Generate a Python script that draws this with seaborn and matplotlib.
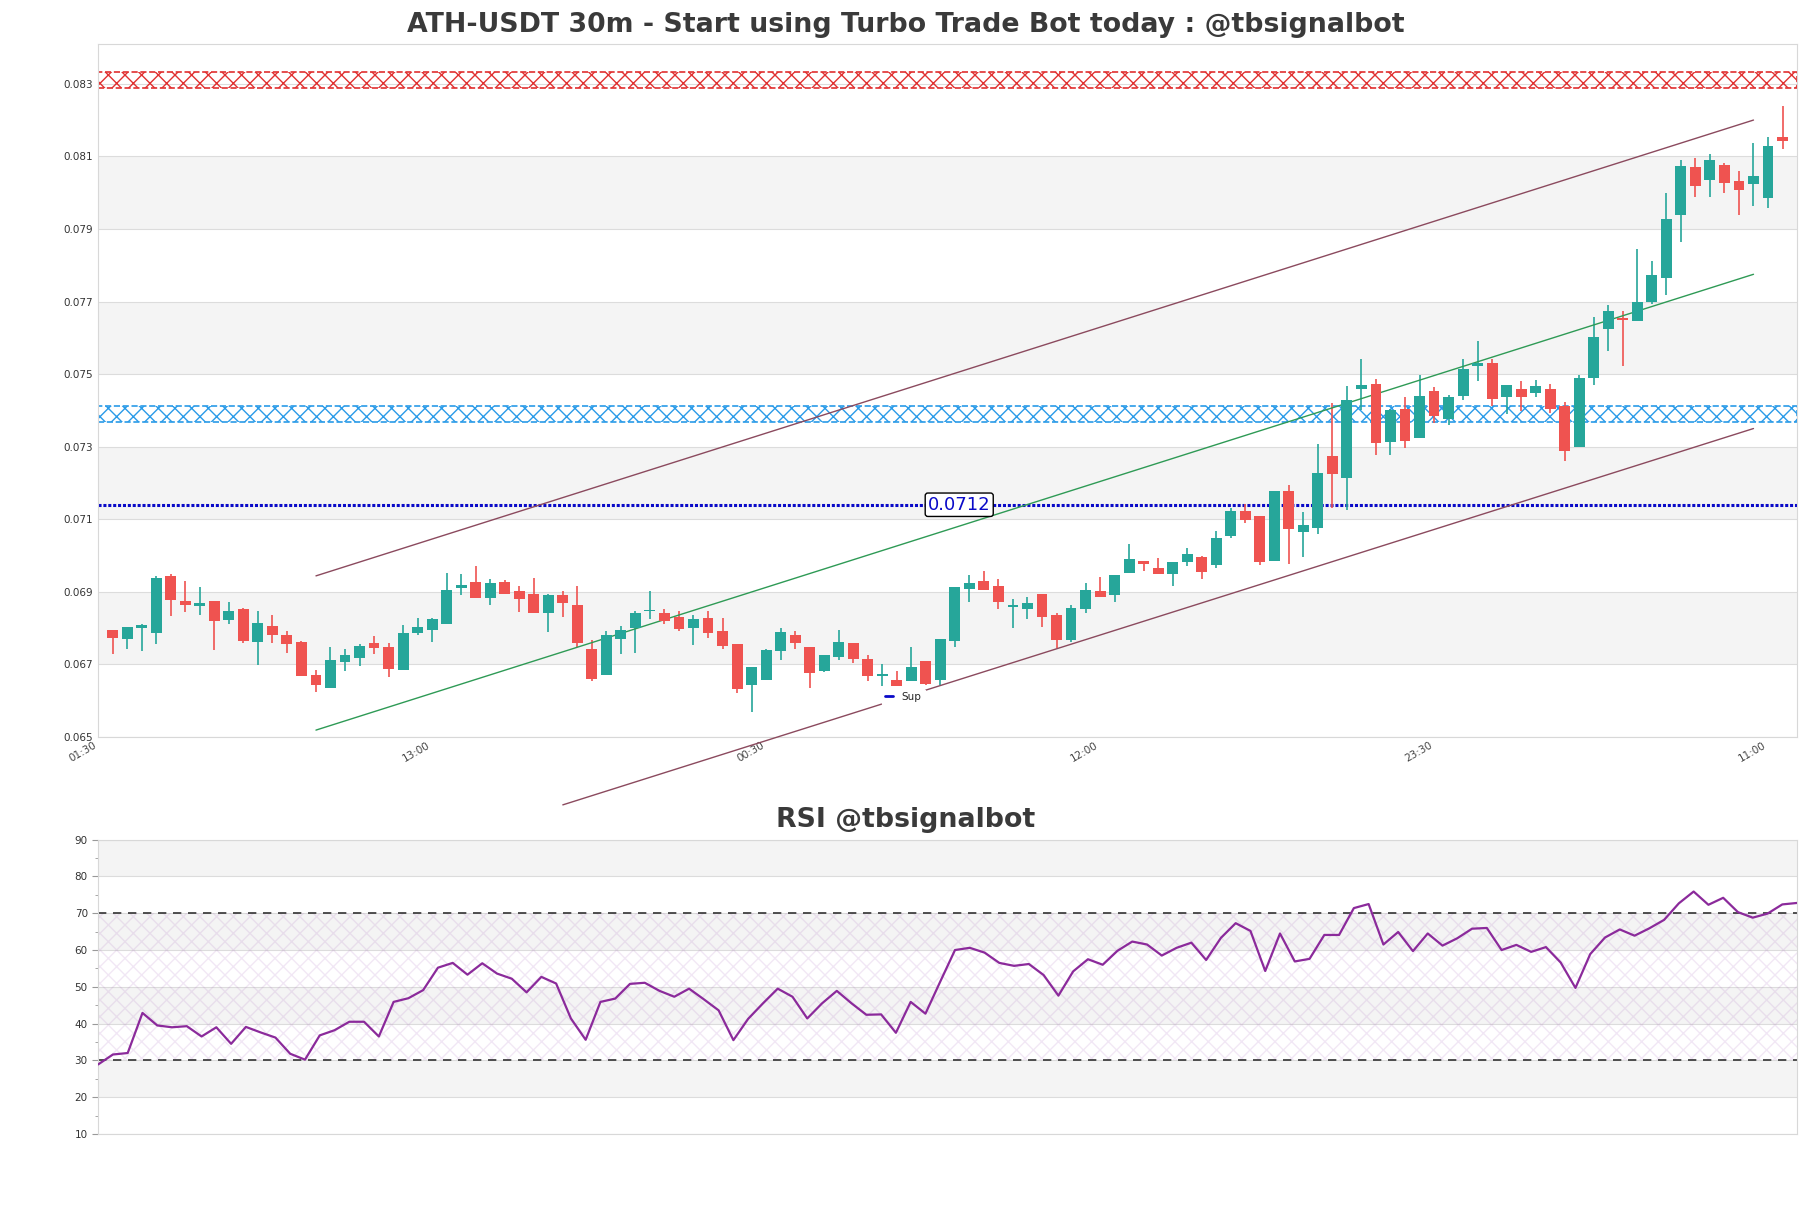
import matplotlib
matplotlib.use("Agg")
import matplotlib.pyplot as plt
from matplotlib.lines import Line2D
import numpy as np
import pandas as pd
import seaborn as sns

# candles (30m), index 1..116
opens = [0.06794, 0.06769, 0.06800, 0.06787, 0.06945, 0.06876, 0.06861, 0.06876, 0.06822, 0.06853,
         0.06762, 0.06805, 0.06780, 0.06761, 0.06671, 0.06636, 0.06707, 0.06718, 0.06759, 0.06748,
         0.06686, 0.06787, 0.06795, 0.06811, 0.06910, 0.06926, 0.06883, 0.06928, 0.06901, 0.06893,
         0.06842, 0.06890, 0.06863, 0.06742, 0.06672, 0.06770, 0.06800, 0.06846, 0.06843, 0.06830,
         0.06801, 0.06827, 0.06792, 0.06755, 0.06642, 0.06658, 0.06738, 0.06782, 0.06747, 0.06681,
         0.06720, 0.06758, 0.06714, 0.06668, 0.06658, 0.06654, 0.06710, 0.06656, 0.06764, 0.06909,
         0.06930, 0.06916, 0.06857, 0.06852, 0.06894, 0.06836, 0.06766, 0.06854, 0.06903, 0.06892,
         0.06951, 0.06985, 0.06965, 0.06950, 0.06983, 0.06995, 0.06974, 0.07055, 0.07124, 0.07109,
         0.06986, 0.07178, 0.07066, 0.07075, 0.07275, 0.07213, 0.07460, 0.07473, 0.07313, 0.07405,
         0.07324, 0.07453, 0.07377, 0.07440, 0.07522, 0.07531, 0.07436, 0.07459, 0.07447, 0.07459,
         0.07412, 0.07300, 0.07488, 0.07623, 0.07655, 0.07645, 0.07699, 0.07764, 0.07939, 0.08071,
         0.08035, 0.08076, 0.08031, 0.08024, 0.07986, 0.08154]
highs = [0.06794, 0.06802, 0.06810, 0.06945, 0.06949, 0.06931, 0.06912, 0.06876, 0.06871, 0.06856,
         0.06846, 0.06835, 0.06791, 0.06764, 0.06685, 0.06748, 0.06742, 0.06756, 0.06778, 0.06758,
         0.06808, 0.06829, 0.06827, 0.06952, 0.06950, 0.06970, 0.06936, 0.06933, 0.06917, 0.06937,
         0.06895, 0.06903, 0.06917, 0.06767, 0.06791, 0.06805, 0.06846, 0.06901, 0.06854, 0.06847,
         0.06835, 0.06846, 0.06827, 0.06755, 0.06693, 0.06742, 0.06800, 0.06792, 0.06748, 0.06726,
         0.06796, 0.06758, 0.06727, 0.06701, 0.06681, 0.06749, 0.06710, 0.06769, 0.06914, 0.06946,
         0.06958, 0.06936, 0.06881, 0.06885, 0.06894, 0.06842, 0.06864, 0.06925, 0.06940, 0.06947,
         0.07033, 0.06985, 0.06992, 0.06982, 0.07020, 0.07000, 0.07067, 0.07131, 0.07142, 0.07109,
         0.07178, 0.07195, 0.07120, 0.07307, 0.07420, 0.07466, 0.07542, 0.07487, 0.07405, 0.07436,
         0.07498, 0.07465, 0.07442, 0.07542, 0.07591, 0.07542, 0.07470, 0.07480, 0.07484, 0.07473,
         0.07422, 0.07498, 0.07658, 0.07691, 0.07675, 0.07844, 0.07813, 0.08000, 0.08091, 0.08095,
         0.08107, 0.08082, 0.08059, 0.08137, 0.08153, 0.08238]
lows = [0.06729, 0.06742, 0.06737, 0.06757, 0.06833, 0.06844, 0.06836, 0.06740, 0.06811, 0.06759,
        0.06699, 0.06759, 0.06732, 0.06669, 0.06623, 0.06636, 0.06683, 0.06696, 0.06729, 0.06664,
        0.06686, 0.06782, 0.06762, 0.06811, 0.06891, 0.06883, 0.06864, 0.06895, 0.06844, 0.06842,
        0.06788, 0.06832, 0.06749, 0.06655, 0.06672, 0.06729, 0.06731, 0.06825, 0.06812, 0.06791,
        0.06754, 0.06772, 0.06742, 0.06620, 0.06568, 0.06658, 0.06713, 0.06742, 0.06636, 0.06679,
        0.06712, 0.06703, 0.06653, 0.06641, 0.06641, 0.06654, 0.06644, 0.06644, 0.06748, 0.06872,
        0.06904, 0.06852, 0.06800, 0.06826, 0.06802, 0.06746, 0.06761, 0.06843, 0.06885, 0.06872,
        0.06951, 0.06957, 0.06948, 0.06915, 0.06972, 0.06934, 0.06966, 0.07048, 0.07091, 0.06973,
        0.06986, 0.06978, 0.06997, 0.07059, 0.07131, 0.07125, 0.07400, 0.07277, 0.07277, 0.07296,
        0.07324, 0.07366, 0.07359, 0.07428, 0.07482, 0.07413, 0.07390, 0.07399, 0.07436, 0.07392,
        0.07261, 0.07300, 0.07471, 0.07565, 0.07522, 0.07645, 0.07694, 0.07719, 0.07864, 0.07988,
        0.07988, 0.07999, 0.07939, 0.07964, 0.07959, 0.08121]
closes = [0.06772, 0.06802, 0.06808, 0.06939, 0.06877, 0.06864, 0.06869, 0.06820, 0.06846, 0.06765,
          0.06813, 0.06781, 0.06757, 0.06669, 0.06642, 0.06712, 0.06726, 0.06750, 0.06745, 0.06688,
          0.06786, 0.06802, 0.06824, 0.06904, 0.06920, 0.06883, 0.06923, 0.06895, 0.06880, 0.06842,
          0.06890, 0.06869, 0.06759, 0.06661, 0.06782, 0.06794, 0.06843, 0.06850, 0.06820, 0.06798,
          0.06824, 0.06787, 0.06751, 0.06633, 0.06693, 0.06739, 0.06790, 0.06759, 0.06677, 0.06725,
          0.06763, 0.06715, 0.06668, 0.06673, 0.06641, 0.06692, 0.06647, 0.06769, 0.06914, 0.06925,
          0.06906, 0.06871, 0.06864, 0.06870, 0.06832, 0.06767, 0.06855, 0.06905, 0.06885, 0.06947,
          0.06990, 0.06978, 0.06948, 0.06982, 0.07004, 0.06955, 0.07048, 0.07124, 0.07099, 0.06981,
          0.07178, 0.07072, 0.07084, 0.07228, 0.07224, 0.07429, 0.07469, 0.07310, 0.07401, 0.07316,
          0.07439, 0.07385, 0.07437, 0.07515, 0.07530, 0.07432, 0.07470, 0.07436, 0.07467, 0.07405,
          0.07288, 0.07489, 0.07601, 0.07675, 0.07648, 0.07700, 0.07772, 0.07927, 0.08073, 0.08019,
          0.08090, 0.08027, 0.08008, 0.08046, 0.08129, 0.08141]

rsi = [28.9, 31.6, 32.0, 42.9, 39.5, 39.0, 39.3, 36.5, 39.0, 34.5,
       39.1, 37.6, 36.2, 31.8, 30.2, 36.8, 38.2, 40.5, 40.5, 36.5,
       45.9, 46.9, 49.1, 55.2, 56.5, 53.3, 56.4, 53.6, 52.2, 48.5,
       52.7, 50.9, 41.4, 35.6, 45.9, 46.8, 50.8, 51.1, 48.9, 47.3,
       49.5, 46.6, 43.6, 35.5, 41.3, 45.5, 49.5, 47.3, 41.4, 45.5,
       48.9, 45.5, 42.4, 42.5, 37.5, 45.9, 42.7, 51.4, 60.0, 60.6,
       59.3, 56.5, 55.7, 56.2, 53.2, 47.6, 54.2, 57.5, 56.0, 59.8,
       62.3, 61.5, 58.5, 60.6, 62.0, 57.3, 63.3, 67.3, 65.2, 54.3,
       64.5, 56.9, 57.6, 64.1, 64.1, 71.4, 72.5, 61.5, 64.9, 59.7,
       64.5, 61.2, 63.2, 65.8, 66.0, 60.0, 61.4, 59.5, 60.8, 56.6,
       49.7, 58.9, 63.4, 65.6, 63.9, 65.9, 68.2, 72.7, 75.9, 72.3,
       74.2, 70.3, 68.8, 69.9, 72.4, 72.8]

tick_pos = [0, 23, 46, 69, 92, 115]
tick_labels = ["01:30", "13:00", "00:30", "12:00", "23:30", "11:00"]

# channel lines (x index, price)
chan_x = [15, 114]
chan_upper = [0.06944, 0.08200]
chan_mid = [0.06519, 0.07775]
low_x = [32, 114]
chan_lower = [0.06313, 0.07350]

resistance_zone = (0.08288, 0.08332)
support_zone = (0.07368, 0.07411)
support_level = 0.0714
support_text = "0.0712"

UP, DOWN = "#26a69a", "#ef5350"
BAND = "#f4f4f4"
TITLE_C = "#3a3a3a"
SUP_C = "#0a0ac8"

sns.set_style("whitegrid", {"grid.color": "#dcdcdc", "axes.edgecolor": "#d8d8d8"})
plt.rcParams["font.family"] = ["DejaVu Sans"]

df = pd.DataFrame({"open": opens, "high": highs, "low": lows, "close": closes})
df["x"] = np.arange(1, len(df) + 1)
df["up"] = df["close"] >= df["open"]

fig = plt.figure(figsize=(18.11, 12.08), dpi=100)
ax = fig.add_axes([0.0542, 0.3899, 0.9381, 0.5738])
ax2 = fig.add_axes([0.0542, 0.0613, 0.9381, 0.2436])

# --- price panel ---
ax.set_xlim(0, 117)
ax.set_ylim(0.065, 0.0841)
yt = np.arange(0.065, 0.0835, 0.002)
ax.set_yticks(yt)
ax.set_yticklabels([f"{v:.3f}" for v in yt])
for lo in np.arange(0.067, 0.0815, 0.004):
    ax.axhspan(lo, lo + 0.002, color=BAND, zorder=0, lw=0)
ax.grid(axis="x", visible=False)

colors = np.where(df["up"], UP, DOWN)
ax.vlines(df["x"], df["low"], df["high"], colors=colors, lw=1.2, zorder=3)
body_lo = np.minimum(df["open"], df["close"])
body_h = np.maximum((df["close"] - df["open"]).abs(), 0.00004)
ax.bar(df["x"], body_h, bottom=body_lo, width=0.75, color=colors, lw=0, zorder=4)

ax.axhspan(*resistance_zone, facecolor="none", edgecolor="#e03030", hatch="xx",
           ls="--", lw=1.2, zorder=2)
ax.axhspan(*support_zone, facecolor="none", edgecolor="#2a9be8", hatch="xx",
           ls="--", lw=1.2, zorder=2)
ax.axhline(support_level, color=SUP_C, ls=(0, (1, 0.6)), lw=2.2, zorder=2)
ax.text(59.3, support_level, support_text, color=SUP_C, fontsize=13,
        ha="center", va="center", zorder=6,
        bbox=dict(boxstyle="round,pad=0.15", fc="white", ec="black", lw=1))

ax.plot(chan_x, chan_upper, color="#8b4a5e", lw=1, clip_on=False, zorder=3)
ax.plot(chan_x, chan_mid, color="#2e9a55", lw=1, clip_on=False, zorder=3)
ax.plot(low_x, chan_lower, color="#8b4a5e", lw=1, clip_on=False, zorder=3)

ax.set_xticks(tick_pos)
ax.set_xticklabels(tick_labels, rotation=30, ha="right", fontsize=7.5, color="#444444")
ax.tick_params(axis="y", labelsize=7.5, labelcolor="#333333", length=0)
ax.tick_params(axis="x", length=0, pad=2)
leg = ax.legend(handles=[Line2D([], [], color=SUP_C, lw=2)], labels=["Sup"],
                loc="center", bbox_to_anchor=(0.474, 0.058), fontsize=7.5,
                handlelength=0.8, frameon=True, framealpha=1, edgecolor="white",
                borderpad=0.3)
leg.set_zorder(7)
fig.text(0.5, 0.979, "ATH-USDT 30m - Start using Turbo Trade Bot today : @tbsignalbot",
         fontsize=19.3, fontweight="bold", color=TITLE_C, ha="center", va="center")

# --- RSI panel ---
rdf = pd.DataFrame({"x": np.arange(len(rsi)), "rsi": rsi})
ax2.set_xlim(0, len(rsi) - 1)
ax2.set_ylim(10, 90)
for lo in [20, 40, 60, 80]:
    ax2.axhspan(lo, lo + 10, color=BAND, zorder=0, lw=0)
ax2.axhspan(30, 70, facecolor="none", edgecolor=(0.6, 0.3, 0.7, 0.13), hatch="xx",
            lw=0, zorder=1)
ax2.axhline(70, color="#333333", ls=(0, (5, 4)), lw=1.2, zorder=2)
ax2.axhline(30, color="#333333", ls=(0, (5, 4)), lw=1.2, zorder=2)
sns.lineplot(data=rdf, x="x", y="rsi", ax=ax2, color="#8b2a9b", lw=1.6, zorder=3)
ax2.set_yticks(np.arange(10, 91, 10))
ax2.set_yticks(np.arange(15, 90, 10), minor=True)
ax2.set_xticks([])
ax2.grid(axis="x", visible=False)
ax2.set_xlabel("")
ax2.set_ylabel("")
ax2.tick_params(axis="y", which="major", labelsize=7.5, labelcolor="#333333",
                length=4, color="#999999", left=True)
ax2.tick_params(axis="y", which="minor", length=2, color="#999999", left=True)
fig.text(0.5, 0.3212, "RSI @tbsignalbot", fontsize=19.3, fontweight="bold",
         color=TITLE_C, ha="center", va="center")

fig.savefig("out.png", dpi=100)
